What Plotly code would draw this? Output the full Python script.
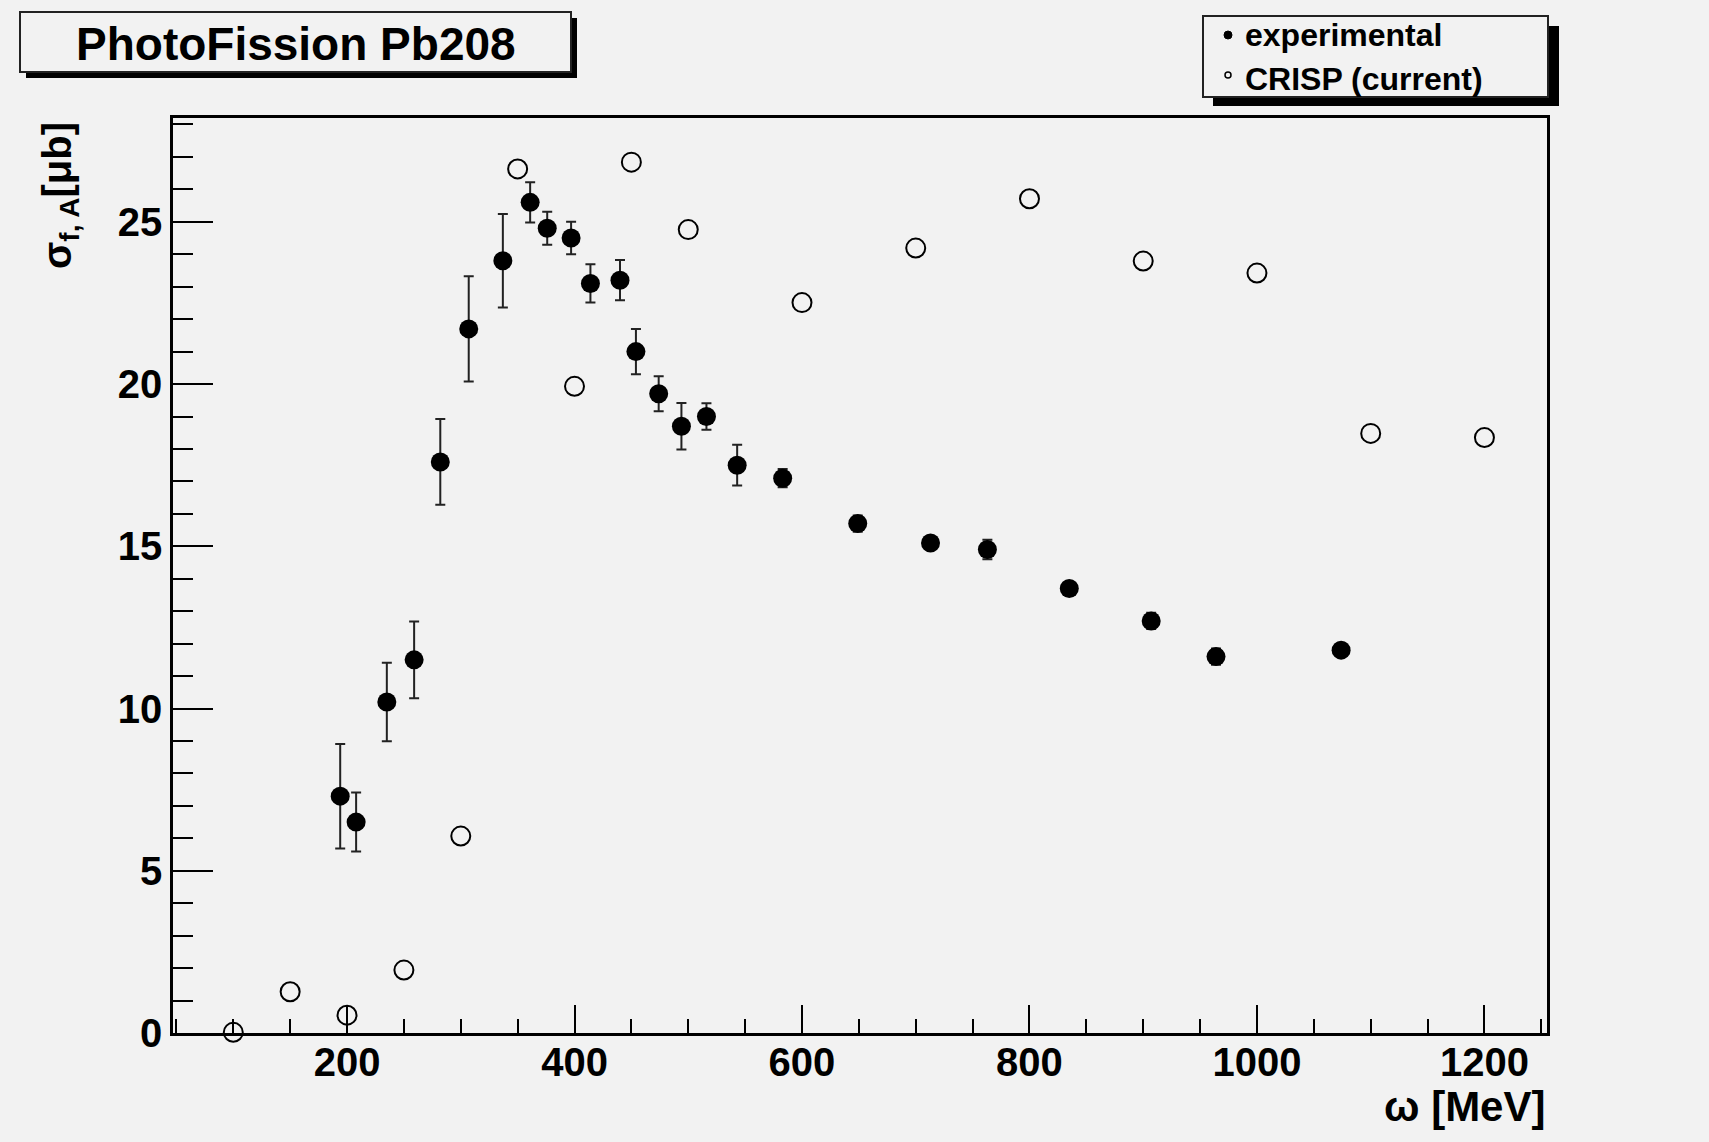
import plotly.graph_objects as go

# ---------------- data ----------------
exp_energy = [194, 208, 235, 259, 282, 307, 337, 361, 376, 397, 414, 440, 454, 474,
              494, 516, 543, 583, 649, 713, 763, 835, 907, 964, 1074]
exp_sigma = [7.3, 6.5, 10.2, 11.5, 17.6, 21.7, 23.8, 25.6, 24.8, 24.5, 23.1, 23.2, 21.0, 19.7,
             18.7, 19.0, 17.5, 17.1, 15.7, 15.1, 14.9, 13.7, 12.7, 11.6, 11.8]
exp_err = [1.61, 0.91, 1.21, 1.18, 1.32, 1.62, 1.44, 0.62, 0.51, 0.50, 0.59, 0.62, 0.70, 0.54,
           0.72, 0.41, 0.63, 0.28, 0.25, 0.15, 0.30, 0.15, 0.25, 0.25, 0.15]

crisp_energy = [100, 150, 200, 250, 300, 350, 400, 450, 500, 600, 700, 800, 900, 1000, 1100, 1200]
crisp_sigma = [0.02, 1.27, 0.55, 1.94, 6.07, 26.63, 19.93, 26.84, 24.76, 22.51, 24.19, 25.71,
               23.79, 23.42, 18.48, 18.35]
crisp_err = [0.0, 0.0, 0.3, 0.0, 0.0, 0.0, 0.0, 0.0, 0.0, 0.0, 0.0, 0.0, 0.0, 0.0, 0.0, 0.0]

title_text = "PhotoFission Pb208"
legend_labels = ["experimental", "CRISP (current)"]
x_title = "ω [MeV]"
y_title = "σ<sub>f, A</sub>[μb]"

# ---------------- geometry ----------------
W, H = 1709, 1142
L, R, T, B = 173, 1547, 118, 1033
BG = "#f2f2f2"
FONT = "Liberation Sans"


def px(x):
    return (x - L) / (R - L)


def py(y):
    return (B - y) / (B - T)


fig = go.Figure()

fig.add_trace(go.Scatter(
    x=exp_energy, y=exp_sigma, mode="markers", name=legend_labels[0],
    marker=dict(symbol="circle", size=19, color="black"),
    error_y=dict(type="data", array=exp_err, visible=True, color="#222222",
                 thickness=2, width=5),
    showlegend=False, cliponaxis=False,
))
fig.add_trace(go.Scatter(
    x=crisp_energy, y=crisp_sigma, mode="markers", name=legend_labels[1],
    marker=dict(symbol="circle-open", size=19, color="black", line=dict(width=2, color="black")),
    error_y=dict(type="data", array=crisp_err, visible=True, color="#222222",
                 thickness=2, width=0),
    showlegend=False, cliponaxis=False,
))

tickfont = dict(family=FONT, size=40, color="black", weight="bold")

fig.update_xaxes(
    range=[47, 1255], tick0=0, dtick=200, ticks="inside", ticklen=28, tickwidth=2,
    tickcolor="black", showline=True, linecolor="black", linewidth=2.5, mirror=True,
    showgrid=False, zeroline=False, tickfont=tickfont, ticklabelstandoff=-8,
    minor=dict(dtick=50, tick0=0, ticks="inside", ticklen=14, tickwidth=2, tickcolor="black",
               showgrid=False),
)
fig.update_yaxes(
    range=[0, 28.2], tick0=0, dtick=5, ticks="inside", ticklen=40, tickwidth=2,
    tickcolor="black", showline=True, linecolor="black", linewidth=2.5, mirror=True,
    showgrid=False, zeroline=False, tickfont=tickfont, ticklabelstandoff=0,
    minor=dict(dtick=1, tick0=0, ticks="inside", ticklen=20, tickwidth=2, tickcolor="black",
               showgrid=False),
)

shapes = []
# title box with shadow
shapes.append(dict(type="rect", xref="paper", yref="paper",
                   x0=px(26), x1=px(577), y0=py(78), y1=py(18),
                   fillcolor="black", line=dict(width=0), layer="above"))
shapes.append(dict(type="rect", xref="paper", yref="paper",
                   x0=px(20), x1=px(571), y0=py(72), y1=py(12),
                   fillcolor=BG, line=dict(width=2, color="#222222"), layer="above"))
# legend box with shadow
shapes.append(dict(type="rect", xref="paper", yref="paper",
                   x0=px(1213), x1=px(1559), y0=py(106), y1=py(26),
                   fillcolor="black", line=dict(width=0), layer="above"))
shapes.append(dict(type="rect", xref="paper", yref="paper",
                   x0=px(1203), x1=px(1548), y0=py(97), y1=py(16),
                   fillcolor=BG, line=dict(width=2, color="#222222"), layer="above"))
# legend markers
shapes.append(dict(type="circle", xref="paper", yref="paper",
                   x0=px(1224), x1=px(1232), y0=py(39), y1=py(31),
                   fillcolor="black", line=dict(width=1, color="black"), layer="above"))
shapes.append(dict(type="circle", xref="paper", yref="paper",
                   x0=px(1225), x1=px(1231), y0=py(78), y1=py(72),
                   fillcolor=BG, line=dict(width=1.5, color="black"), layer="above"))

annotations = [
    dict(text=title_text, xref="paper", yref="paper", x=px(296), y=py(44),
         xanchor="center", yanchor="middle", showarrow=False,
         font=dict(family=FONT, size=46, color="black", weight="bold")),
    dict(text=legend_labels[0], xref="paper", yref="paper", x=px(1243), y=py(35),
         xanchor="left", yanchor="middle", showarrow=False,
         font=dict(family=FONT, size=32, color="black", weight="bold")),
    dict(text=legend_labels[1], xref="paper", yref="paper", x=px(1243), y=py(79),
         xanchor="left", yanchor="middle", showarrow=False,
         font=dict(family=FONT, size=32, color="black", weight="bold")),
    dict(text=x_title, xref="paper", yref="paper", x=px(1547), y=py(1106),
         xanchor="right", yanchor="middle", showarrow=False,
         font=dict(family=FONT, size=42, color="black", weight="bold")),
    dict(text=y_title, xref="paper", yref="paper", x=px(60), y=py(195),
         xanchor="center", yanchor="middle", showarrow=False, textangle=-90,
         font=dict(family=FONT, size=40, color="black", weight="bold")),
]

fig.update_layout(
    width=W, height=H,
    margin=dict(l=L, r=W - R, t=T, b=H - B, pad=0),
    paper_bgcolor=BG, plot_bgcolor=BG,
    shapes=shapes, annotations=annotations,
    showlegend=False,
)

fig.write_html("out.html", config={"displayModeBar": False},
               post_script="document.body.style.margin='0';document.body.style.overflow='hidden';")
